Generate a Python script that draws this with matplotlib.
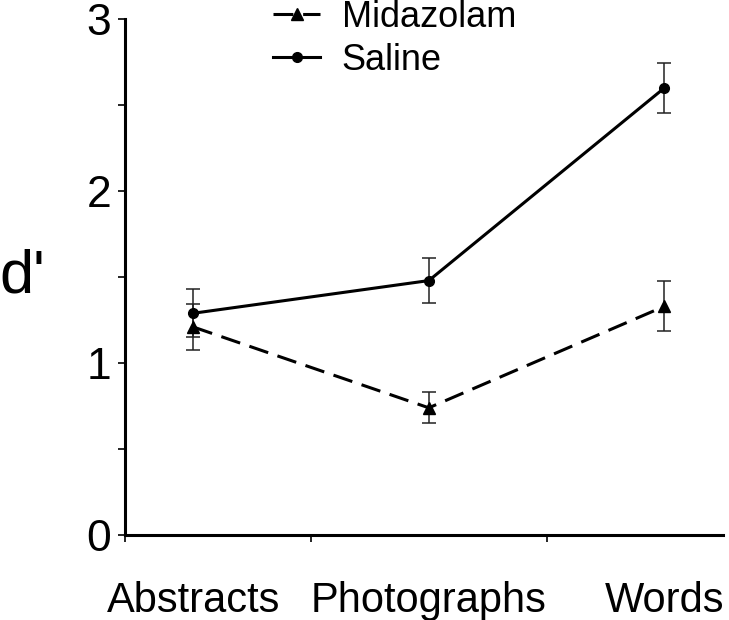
import numpy as np
import matplotlib.pyplot as plt

plt.rcParams['font.family'] = ['Liberation Sans', 'DejaVu Sans']

categories = ['Abstracts', 'Photographs', 'Words']
midazolam = [1.21, 0.74, 1.33]
midazolam_se = [0.135, 0.09, 0.145]
saline = [1.29, 1.48, 2.60]
saline_se = [0.14, 0.13, 0.145]

x = np.arange(len(categories))

fig = plt.figure(figsize=(7.29, 6.2), dpi=100)
ax = fig.add_axes([0.1715, 0.137, 0.8205, 0.832])

# error bars first, lines on top
for vals, err in [(midazolam, midazolam_se), (saline, saline_se)]:
    ax.errorbar(x, vals, yerr=err, fmt='none', ecolor='#222222',
                elinewidth=1.1, capsize=5, capthick=1.1)

ax.plot(x, midazolam, color='black', lw=2.2, ls=(0, (6.5, 3.2)),
        marker='^', ms=8, label='Midazolam')
ax.plot(x, saline, color='black', lw=2.2, ls='-', marker='o', ms=7,
        label='Saline')

ax.set_xlim(-0.29, 2.25)
ax.set_ylim(0, 3)

for s in ['top', 'right']:
    ax.spines[s].set_visible(False)
for s in ['left', 'bottom']:
    ax.spines[s].set_linewidth(2.2)

ax.set_yticks([0, 1, 2, 3])
ax.set_yticks([0.5, 1.5, 2.5], minor=True)
ax.tick_params(axis='y', which='both', direction='out', length=5, width=1.2,
               labelsize=32, pad=5)

ax.set_xticks(x)
ax.set_xticklabels(categories)
ax.set_xticks([-0.29, 0.5, 1.5], minor=True)
ax.tick_params(axis='x', which='major', length=0, labelsize=30, pad=33)
ax.tick_params(axis='x', which='minor', direction='out', length=5, width=1.2)

ax.set_ylabel("d'", rotation=0, fontsize=44, va='center', ha='center')
ax.yaxis.set_label_coords(-0.172, 0.50)

ax.legend(loc='upper left', bbox_to_anchor=(0.2475, 1.037), frameon=False,
          fontsize=26, handlelength=1.3, handletextpad=0.6,
          labelspacing=0.22, borderaxespad=0, borderpad=0)

fig.savefig('out.png', dpi=100)
